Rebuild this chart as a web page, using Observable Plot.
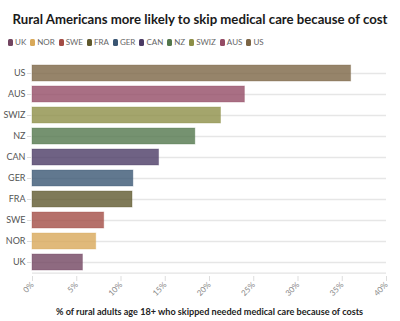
<!DOCTYPE html>
<html>
<head>
<meta charset="utf-8">
<script src="https://cdn.jsdelivr.net/npm/d3@7"></script>
<script src="https://cdn.jsdelivr.net/npm/@observablehq/plot@0.6"></script>
<style>
  html, body { margin: 0; padding: 0; background: #fff; }
  body { width: 400px; height: 321px; overflow: hidden; font-family: Lato, "Open Sans", sans-serif; }
  #title { position: absolute; left: 0; top: 11px; width: 400px; text-align: center; font-weight: 700; font-size: 13.2px; color: #1a1a1a; white-space: nowrap; }
  #legend { position: absolute; left: 8px; top: 37px; display: flex; font-size: 8px; color: #666; }
  .item { display: flex; align-items: center; margin-right: 4px; }
  .sw { width: 5px; height: 7px; border-radius: 1.5px; margin-right: 2px; }
  #chart { position: absolute; left: 0; top: 52px; }
</style>
</head>
<body>
<div id="title">Rural Americans more likely to skip medical care because of cost</div>
<div id="legend"></div>
<div id="chart"></div>
<script>
const countries = ["UK", "NOR", "SWE", "FRA", "GER", "CAN", "NZ", "SWIZ", "AUS", "US"];
const values = [5.7, 7.2, 8.1, 11.3, 11.4, 14.3, 18.4, 21.3, 24.0, 36.0];
const colors = ["#724560", "#d8a859", "#a34c45", "#5f592e", "#3a5673", "#4b3b65", "#53774c", "#8d8f47", "#944b65", "#7c6545"];
const xTicks = [0, 5, 10, 15, 20, 25, 30, 35, 40];
const title = "Rural Americans more likely to skip medical care because of cost";
const xLabel = "% of rural adults age 18+ who skipped needed medical care because of costs";

const data = countries.map((c, i) => ({country: c, value: values[i]}));
const order = countries.slice().reverse();

const legend = document.getElementById("legend");
countries.forEach((c, i) => {
  const it = document.createElement("div");
  it.className = "item";
  const sw = document.createElement("span");
  sw.className = "sw";
  sw.style.background = colors[i];
  const t = document.createElement("span");
  t.textContent = c;
  it.appendChild(sw); it.appendChild(t);
  legend.appendChild(it);
});

const chart = Plot.plot({
  width: 400,
  height: 269,
  marginLeft: 32,
  marginRight: 14,
  marginTop: 6,
  marginBottom: 45,
  style: {fontFamily: "Lato, sans-serif", color: "#555", background: "transparent"},
  x: {domain: [0, 40]},
  y: {domain: order, padding: 0.25, label: null},
  color: {domain: countries, range: colors},
  marks: [
    Plot.gridY({stroke: "#e6e6e6", strokeOpacity: 1, strokeWidth: 1.3}),
    Plot.barX(data, {x: "value", y: "country", fill: "country", fillOpacity: 0.8, stroke: "country", strokeOpacity: 0.35, strokeWidth: 1}),
    Plot.axisY({tickSize: 5, stroke: "#ddd", fontSize: 9, fill: "#555", tickPadding: 2, label: null}),
    Plot.axisX({ticks: xTicks, tickFormat: d => d + "%", tickRotate: -45, tickSize: 5, stroke: "#ddd", fontSize: 8, fill: "#888", tickPadding: 2, label: null}),
    Plot.ruleY([order[order.length - 1]], {dy: 10.66, stroke: "#e3e3e3", strokeWidth: 1.3}),
    Plot.text([xLabel], {frameAnchor: "bottom", dy: 38, fontWeight: 700, fontSize: 9.1, fill: "#222"})
  ]
});
document.getElementById("chart").appendChild(chart);
</script>
</body>
</html>
